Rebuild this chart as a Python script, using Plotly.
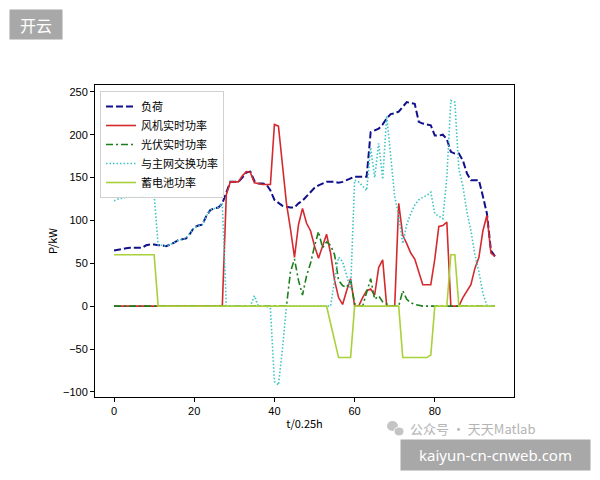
import plotly.graph_objects as go

t = list(range(96))

load = [65, 66, 67, 67.5, 68, 68, 68, 68, 71, 72, 72, 71, 71, 70, 72, 74, 77, 78, 79, 85,
        92, 94, 95, 105, 112, 114, 115, 120, 133, 145, 145, 145, 150, 156, 157, 146, 143, 143, 142, 135,
        124, 120, 117, 116, 115, 115, 120, 123, 128, 133, 138, 141, 143, 145, 145, 145, 144, 145, 147, 149,
        151, 151, 151, 151, 203, 205, 207, 212, 219, 224, 225, 227, 232, 238, 237, 236, 215, 213, 212, 211,
        199, 199, 200, 195, 180, 178, 178, 170, 155, 147, 147, 147, 128, 108, 65, 58]

wind = [0] * 28 + [130, 145, 145, 145, 152, 157, 156, 144, 143, 142, 142, 142,
        212, 210, 165, 120, 90, 57, 95, 114, 97, 88, 70, 56, 70, 84, 62, 30, 10, 2, 18, 32,
        0, 0, 10, 18, 20, 13, 45, 54, 0, 0, 0, 120, 83, 73, 62, 55, 40, 25, 25, 25,
        55, 93, 94, 98, 0, 0, 0, 10, 18, 25, 44, 57, 88, 106, 62, 58]

pv = [0] * 44 + [40, 55, 30, 13, 35, 50, 70, 87, 68, 75, 71, 60, 30, 24, 22, 30,
      3, 0, 0, 15, 32, 8, 12, 5, 2, 0, 0, 0, 18, 8, 4, 2, 1] + [0] * 19

grid = [123, 125, 126, 127, 127, 127, 127, 128, 130, 131, 130] + load[11:28] + \
       [0, 0, 0, 0, 0, 0, 0, 12, 0, 0, 0, -3,
        -88, -92, -50, 0, 0, 0, 0, 0, 0, 0, 0, 0, 0, 0, 0, 30, 57, 52, 35, 20,
        147, 145, 140, 135, 185, 150, 190, 148, 222, 175, 128, 105, 73, 95, 108, 118, 124, 127, 129, 133,
        108, 105, 102, 150, 240, 238, 160, 140, 110, 88, 60, 40, 15, 0, 0, 0]

battery = [60] * 11 + [0] * 42 + [0, -20, -40, -60, -60, -60, -60, 0] + [0] * 11 + \
          [-60, -60, -60, -60, -60, -60, -60, -57, 0, 0, 0, 0, 60, 60, 0] + [0] * 9

names = ["负荷", "风机实时功率", "光伏实时功率", "与主网交换功率", "蓄电池功率"]
x_ticks = [0, 20, 40, 60, 80]
y_ticks = [250, 200, 150, 100, 50, 0, -50, -100]

CJK = "Noto Sans CJK SC"

fig = go.Figure()
fig.add_trace(go.Scatter(x=t, y=load, mode="lines", name=names[0],
                         line=dict(color="#10108a", width=2, dash="7px,3px")))
fig.add_trace(go.Scatter(x=t, y=wind, mode="lines", name=names[1],
                         line=dict(color="#d42a2e", width=1.6)))
fig.add_trace(go.Scatter(x=t, y=pv, mode="lines", name=names[2],
                         line=dict(color="#1b7f1b", width=1.6, dash="7px,3px,2px,3px")))
fig.add_trace(go.Scatter(x=t, y=grid, mode="lines", name=names[3],
                         line=dict(color="#3cc4c4", width=1.6, dash="1.5px,2px")))
fig.add_trace(go.Scatter(x=t, y=battery, mode="lines", name=names[4],
                         line=dict(color="#a8d13a", width=1.6)))

axis_common = dict(showgrid=False, zeroline=False, showline=True, linecolor="black",
                   linewidth=1, mirror=True, ticks="outside", ticklen=4, tickcolor="black",
                   tickfont=dict(family="Liberation Sans", size=11, color="black"))

fig.update_xaxes(range=[-4.75, 99.75], tickvals=x_ticks,
                 title=dict(text="t/0.25h", font=dict(family=CJK, size=11, color="black"), standoff=4),
                 **axis_common)
fig.update_yaxes(range=[-106, 258], tickvals=y_ticks,
                 title=dict(text="P/kW", font=dict(family=CJK, size=11, color="black"), standoff=3),
                 **axis_common)

W, H = 600, 480
L, R, T, B = 95, 86, 85, 83
pw, ph = W - L - R, H - T - B

def px(xp):
    return (xp - L) / pw

def py(yp):
    return (H - B - yp) / ph

fig.update_layout(
    width=W, height=H,
    margin=dict(l=L, r=R, t=T, b=B),
    paper_bgcolor="white", plot_bgcolor="white",
    showlegend=True,
    legend=dict(x=px(100), y=py(91), xanchor="left", yanchor="top",
                bgcolor="rgba(255,255,255,0.85)", bordercolor="#d0d0d0", borderwidth=1,
                font=dict(family=CJK, size=11, color="black"), tracegroupgap=0,
                itemwidth=30),
    annotations=[
        dict(text="开云", xref="paper", yref="paper", x=px(36), y=py(24),
             xanchor="center", yanchor="middle", showarrow=False,
             font=dict(family=CJK, size=16, color="white"),
             bgcolor="#a8a8a8", width=52, height=29, borderpad=0),
        dict(text="kaiyun-cn-cnweb.com", xref="paper", yref="paper", x=px(495.5), y=py(455),
             xanchor="center", yanchor="middle", showarrow=False,
             font=dict(family="Noto Sans", size=15, color="white"),
             bgcolor="#a8a8a8", width=189, height=30, borderpad=0),
        dict(text="公众号 · 天天Matlab", xref="paper", yref="paper", x=px(408), y=py(428),
             xanchor="left", yanchor="middle", showarrow=False,
             font=dict(family=CJK, size=13, color="#b4b4b4")),
    ],
    shapes=[
        dict(type="circle", xref="paper", yref="paper",
             x0=px(387), x1=px(398), y0=py(431), y1=py(421),
             fillcolor="#c4c4c4", line=dict(width=0)),
        dict(type="circle", xref="paper", yref="paper",
             x0=px(394), x1=px(404), y0=py(436), y1=py(427),
             fillcolor="#c4c4c4", line=dict(color="white", width=1)),
    ],
)

fig.write_html("out.html")
